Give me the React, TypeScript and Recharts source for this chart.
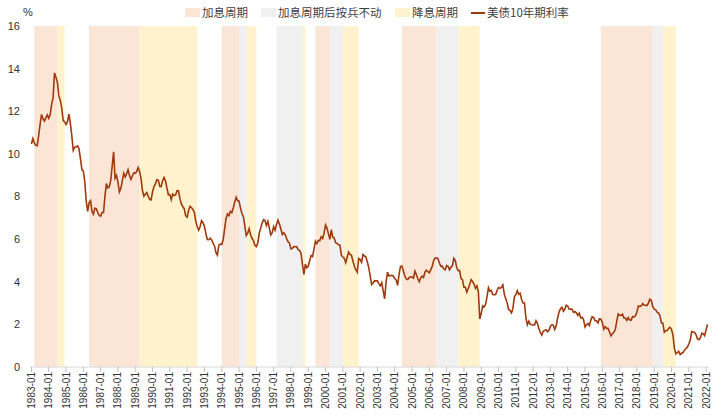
import React from 'react';
import { ComposedChart, Line, XAxis, YAxis, ReferenceArea } from 'recharts';

// Monthly US 10Y Treasury yield (%), starting 1983-01, ending 2022-02
const START_YEAR = 1983;
const yields: number[] = [
  // 1983
  10.46, 10.72, 10.51, 10.40, 10.38, 10.85, 11.38, 11.85, 11.65, 11.54, 11.69, 11.83,
  // 1984
  11.67, 11.84, 12.32, 12.63, 13.80, 13.60, 13.36, 12.72, 12.52, 12.16, 11.57, 11.50,
  // 1985
  11.38, 11.51, 11.86, 11.43, 10.85, 10.16, 10.31, 10.33, 10.37, 10.24, 9.78, 9.26,
  // 1986
  9.19, 8.70, 7.78, 7.30, 7.71, 7.80, 7.30, 7.17, 7.45, 7.43, 7.25, 7.11,
  // 1987
  7.08, 7.25, 7.25, 8.02, 8.61, 8.40, 8.45, 8.76, 9.42, 10.10, 8.86, 8.99,
  // 1988
  8.67, 8.21, 8.37, 8.72, 9.09, 8.92, 9.06, 9.26, 8.98, 8.80, 8.96, 9.11,
  // 1989
  9.09, 9.17, 9.36, 9.18, 8.86, 8.28, 8.02, 8.11, 8.19, 8.01, 7.87, 7.84,
  // 1990
  8.21, 8.47, 8.59, 8.79, 8.76, 8.48, 8.47, 8.75, 8.89, 8.72, 8.39, 8.08,
  // 1991
  8.09, 7.85, 8.11, 8.04, 8.07, 8.28, 8.27, 7.90, 7.65, 7.53, 7.42, 7.09,
  // 1992
  7.03, 7.34, 7.54, 7.48, 7.39, 7.26, 6.84, 6.59, 6.42, 6.59, 6.87, 6.77,
  // 1993
  6.60, 6.26, 5.98, 5.97, 6.04, 5.96, 5.81, 5.68, 5.36, 5.25, 5.72, 5.77,
  // 1994
  5.75, 5.97, 6.48, 6.97, 7.18, 7.10, 7.30, 7.24, 7.46, 7.74, 7.96, 7.81,
  // 1995
  7.78, 7.47, 7.20, 7.06, 6.63, 6.17, 6.28, 6.49, 6.20, 6.04, 5.93, 5.71,
  // 1996
  5.65, 5.81, 6.27, 6.51, 6.74, 6.91, 6.87, 6.64, 6.83, 6.53, 6.20, 6.30,
  // 1997
  6.58, 6.42, 6.69, 6.89, 6.71, 6.49, 6.22, 6.30, 6.21, 6.03, 5.88, 5.81,
  // 1998
  5.54, 5.57, 5.65, 5.64, 5.65, 5.50, 5.46, 5.34, 4.81, 4.35, 4.83, 4.65,
  // 1999
  4.72, 5.00, 5.23, 5.18, 5.54, 5.90, 5.79, 5.94, 5.92, 6.11, 6.03, 6.28,
  // 2000
  6.66, 6.52, 6.26, 5.99, 6.44, 6.10, 6.05, 5.83, 5.80, 5.74, 5.72, 5.24,
  // 2001
  5.16, 5.10, 4.89, 5.14, 5.39, 5.28, 5.24, 4.97, 4.73, 4.57, 4.45, 5.09,
  // 2002
  5.04, 4.91, 5.28, 5.21, 5.16, 4.93, 4.65, 4.26, 3.87, 3.94, 4.05, 4.03,
  // 2003
  4.05, 3.90, 3.81, 3.96, 3.57, 3.20, 3.98, 4.45, 4.27, 4.29, 4.30, 4.27,
  // 2004
  4.15, 4.08, 3.83, 4.35, 4.72, 4.73, 4.50, 4.28, 4.13, 4.10, 4.19, 4.23,
  // 2005
  4.22, 4.17, 4.50, 4.34, 4.14, 4.00, 4.18, 4.26, 4.20, 4.46, 4.54, 4.47,
  // 2006
  4.42, 4.57, 4.72, 4.99, 5.11, 5.11, 5.09, 4.88, 4.72, 4.73, 4.60, 4.56,
  // 2007
  4.76, 4.72, 4.56, 4.69, 4.75, 5.10, 5.00, 4.67, 4.52, 4.53, 4.15, 4.10,
  // 2008
  3.74, 3.74, 3.51, 3.68, 3.88, 4.10, 4.01, 3.89, 3.69, 3.81, 3.53, 2.25,
  // 2009
  2.52, 2.87, 2.82, 2.93, 3.29, 3.72, 3.56, 3.59, 3.40, 3.39, 3.40, 3.59,
  // 2010
  3.73, 3.69, 3.73, 3.85, 3.42, 3.20, 3.01, 2.70, 2.65, 2.54, 2.76, 3.29,
  // 2011
  3.39, 3.58, 3.41, 3.46, 3.17, 3.00, 3.00, 2.30, 1.98, 2.15, 2.01, 1.98,
  // 2012
  1.97, 1.97, 2.17, 2.05, 1.80, 1.62, 1.50, 1.68, 1.72, 1.75, 1.65, 1.72,
  // 2013
  1.91, 1.98, 1.96, 1.76, 1.93, 2.30, 2.58, 2.74, 2.81, 2.62, 2.72, 2.90,
  // 2014
  2.86, 2.71, 2.72, 2.71, 2.56, 2.60, 2.54, 2.42, 2.53, 2.30, 2.33, 2.21,
  // 2015
  1.88, 1.98, 2.04, 1.94, 2.20, 2.36, 2.32, 2.17, 2.17, 2.07, 2.26, 2.24,
  // 2016
  2.09, 1.78, 1.89, 1.81, 1.81, 1.64, 1.46, 1.56, 1.63, 1.76, 2.14, 2.49,
  // 2017
  2.43, 2.42, 2.48, 2.30, 2.30, 2.19, 2.32, 2.21, 2.20, 2.36, 2.35, 2.40,
  // 2018
  2.58, 2.86, 2.84, 2.87, 2.98, 2.91, 2.89, 2.89, 3.00, 3.18, 3.12, 2.83,
  // 2019
  2.71, 2.68, 2.57, 2.53, 2.40, 2.07, 2.06, 1.63, 1.70, 1.71, 1.81, 1.86,
  // 2020
  1.76, 1.50, 0.87, 0.62, 0.67, 0.73, 0.58, 0.65, 0.68, 0.79, 0.87, 0.93,
  // 2021
  1.08, 1.26, 1.66, 1.64, 1.62, 1.52, 1.32, 1.28, 1.37, 1.58, 1.56, 1.47,
  // 2022
  1.76, 2.00,
];

const yTicks = [0, 2, 4, 6, 8, 10, 12, 14, 16];
const tickYears = Array.from({ length: 40 }, (_, i) => START_YEAR + i);
const xTickLabels = tickYears.map((y) => `${y}-01`);

// Fed policy cycles
const hikeBands: [string, string][] = [
  ['1983-03', '1984-07'], ['1986-05', '1989-04'], ['1994-01', '1995-01'],
  ['1999-06', '2000-04'], ['2004-06', '2006-06'], ['2015-12', '2018-12'],
];
const holdBands: [string, string][] = [
  ['1995-01', '1995-06'], ['1997-03', '1998-09'], ['2000-04', '2001-01'],
  ['2006-06', '2007-09'], ['2018-12', '2019-07'],
];
const cutBands: [string, string][] = [
  ['1984-07', '1984-12'], ['1989-04', '1992-08'], ['1995-06', '1996-01'],
  ['1998-09', '1998-11'], ['2001-01', '2001-12'], ['2007-09', '2008-12'],
  ['2019-07', '2020-04'],
];

const COLORS = { hike: '#FBE5D6', hold: '#F0F0F0', cut: '#FFF2CC', line: '#A0390C' };

const monthIndex = (s: string) => {
  const [y, m] = s.split('-').map(Number);
  return (y - START_YEAR) * 12 + (m - 1);
};

const data = yields.map((v, i) => ({ m: i, v }));
const xTicks = xTickLabels.map((l) => monthIndex(l));
const labelOf = (m: number) => {
  const y = START_YEAR + Math.floor(m / 12);
  return `${y}-01`;
};

const XTick = (props: any) => {
  const { x, y, payload } = props;
  return (
    <text
      x={x}
      y={y}
      transform={`rotate(-90, ${x}, ${y})`}
      textAnchor="end"
      dy="0.35em"
      fontSize={10}
      fontFamily="'Liberation Sans', Arial, sans-serif"
      fill="#333"
    >
      {labelOf(payload.value)}
    </text>
  );
};

const legendText: React.CSSProperties = {
  position: 'absolute',
  top: 4,
  fontSize: 11.5,
  lineHeight: '16px',
  color: '#404040',
  fontFamily: "'Noto Sans CJK SC', sans-serif",
  whiteSpace: 'nowrap',
};

export default function App() {
  const renderBands = (bands: [string, string][], color: string, key: string) =>
    bands.map(([a, b], i) => (
      <ReferenceArea
        key={`${key}-${i}`}
        x1={monthIndex(a)}
        x2={monthIndex(b)}
        y1={0}
        y2={16}
        fill={color}
        fillOpacity={1}
        stroke="none"
        ifOverflow="visible"
      />
    ));

  return (
    <div style={{ position: 'absolute', left: 0, top: 0, width: 719, height: 415, background: '#fff' }}>
      <ComposedChart
        width={719}
        height={415}
        data={data}
        margin={{ top: 26, right: 10, left: 0, bottom: 0 }}
      >
        {renderBands(hikeBands, COLORS.hike, 'h')}
        {renderBands(holdBands, COLORS.hold, 'k')}
        {renderBands(cutBands, COLORS.cut, 'c')}
        <XAxis
          dataKey="m"
          type="number"
          domain={[-1, 470]}
          ticks={xTicks}
          interval={0}
          allowDataOverflow
          height={48}
          tick={<XTick />}
          tickSize={5}
          tickMargin={0}
          axisLine={{ stroke: '#D9D9D9' }}
          tickLine={{ stroke: '#BFBFBF' }}
        />
        <YAxis
          type="number"
          domain={[0, 16]}
          ticks={yTicks}
          width={30}
          axisLine={false}
          tickLine={false}
          tickMargin={4}
          tick={{ fontSize: 11, fill: '#333', fontFamily: "'Liberation Sans', Arial, sans-serif" }}
        />
        <Line
          type="linear"
          dataKey="v"
          stroke={COLORS.line}
          strokeWidth={1.6}
          dot={false}
          isAnimationActive={false}
        />
      </ComposedChart>
      <div style={{ position: 'absolute', left: 23, top: 6, fontSize: 11, color: '#333', fontFamily: "'Liberation Sans', Arial, sans-serif" }}>%</div>
      <div style={{ position: 'absolute', left: 185, top: 8, width: 15, height: 9, background: COLORS.hike }} />
      <div style={{ ...legendText, left: 202 }}>加息周期</div>
      <div style={{ position: 'absolute', left: 261, top: 8, width: 15, height: 9, background: COLORS.hold }} />
      <div style={{ ...legendText, left: 278 }}>加息周期后按兵不动</div>
      <div style={{ position: 'absolute', left: 395, top: 8, width: 15, height: 9, background: COLORS.cut }} />
      <div style={{ ...legendText, left: 412 }}>降息周期</div>
      <div style={{ position: 'absolute', left: 471, top: 12, width: 14, height: 1.6, background: COLORS.line }} />
      <div style={{ ...legendText, left: 487 }}>美债10年期利率</div>
    </div>
  );
}
